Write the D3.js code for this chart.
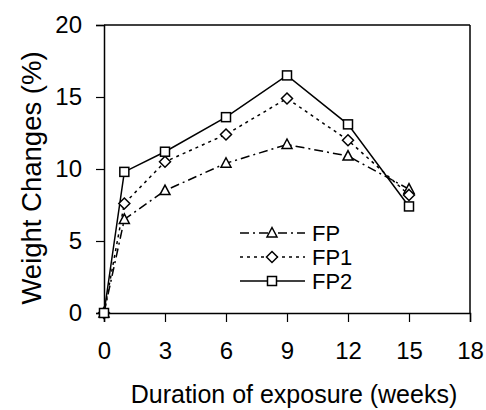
<!DOCTYPE html>
<html><head><meta charset="utf-8">
<script src="https://cdn.jsdelivr.net/npm/d3@7"></script>
<style>body{margin:0;background:#fff}svg{display:block}text{font-family:Arial,"Liberation Sans",sans-serif;fill:#000}</style>
</head><body><svg id="c" width="486" height="410"></svg>
<script>
const weeks = [0, 1, 3, 6, 9, 12, 15];
const seriesNames = ["FP", "FP1", "FP2"];
const fpValues  = [0, 6.5, 8.5, 10.4, 11.7, 10.9, 8.6];
const fp1Values = [0, 7.6, 10.5, 12.4, 14.9, 12.0, 8.2];
const fp2Values = [0, 9.8, 11.2, 13.6, 16.5, 13.1, 7.4];
const xTicks = [0, 3, 6, 9, 12, 15, 18];
const yTicks = [0, 5, 10, 15, 20];

const svg = d3.select("#c");
const L = 104, R = 470, T = 25, B = 313;
const x = d3.scaleLinear().domain([0, 18]).range([L, R]);
const y = d3.scaleLinear().domain([0, 20]).range([B, T]);

const styles = [
  {name: seriesNames[0], vals: fpValues, dash: "9,4,2,4", marker: "tri"},
  {name: seriesNames[1], vals: fp1Values, dash: "3,4", marker: "dia"},
  {name: seriesNames[2], vals: fp2Values, dash: null, marker: "sq"}
];

// frame
svg.append("line").attr("x1", L).attr("x2", R).attr("y1", T).attr("y2", T).attr("stroke", "#000").attr("stroke-width", 1.5);
svg.append("line").attr("x1", R).attr("x2", R).attr("y1", T).attr("y2", B).attr("stroke", "#000").attr("stroke-width", 1.5);

const ya = svg.append("g").attr("transform", `translate(${L},0)`)
  .call(d3.axisLeft(y).tickValues(yTicks).tickSize(8).tickPadding(14).tickFormat(d3.format("d")));
const xa = svg.append("g").attr("transform", `translate(0,${B})`)
  .call(d3.axisBottom(x).tickValues(xTicks).tickSize(9).tickPadding(20).tickFormat(d3.format("d")));
[ya, xa].forEach(a => {
  a.select(".domain").attr("stroke", "#000").attr("stroke-width", 1.5);
  a.selectAll(".tick line").attr("stroke", "#000").attr("stroke-width", 1.2);
  a.selectAll("text").attr("font-size", 24).attr("font-family", "Arial, 'Liberation Sans', sans-serif").attr("fill", "#000");
});

function drawMarker(g, type, cx, cy) {
  if (type === "sq") {
    g.append("rect").attr("x", cx - 4.5).attr("y", cy - 4.5).attr("width", 9).attr("height", 9)
      .attr("fill", "#fff").attr("stroke", "#000").attr("stroke-width", 1.5);
  } else if (type === "dia") {
    g.append("path").attr("d", `M${cx},${cy-5.5}L${cx+5.5},${cy}L${cx},${cy+5.5}L${cx-5.5},${cy}Z`)
      .attr("fill", "#fff").attr("stroke", "#000").attr("stroke-width", 1.5);
  } else {
    g.append("path").attr("d", `M${cx},${cy-5.5}L${cx+5},${cy+4}L${cx-5},${cy+4}Z`)
      .attr("fill", "#fff").attr("stroke", "#000").attr("stroke-width", 1.5);
  }
}

const line = d3.line().x((d, i) => x(weeks[i])).y(d => y(d));
styles.forEach(s => {
  const p = svg.append("path").datum(s.vals).attr("d", line).attr("fill", "none")
    .attr("stroke", "#000").attr("stroke-width", 1.5);
  if (s.dash) p.attr("stroke-dasharray", s.dash);
});
styles.forEach(s => {
  const g = svg.append("g");
  s.vals.forEach((v, i) => drawMarker(g, s.marker, x(weeks[i]), y(v)));
});

// legend
styles.forEach((s, i) => {
  const ly = 233 + i * 24;
  const g = svg.append("g");
  const ln = g.append("line").attr("x1", 240).attr("x2", 305).attr("y1", ly).attr("y2", ly)
    .attr("stroke", "#000").attr("stroke-width", 1.5);
  if (s.dash) ln.attr("stroke-dasharray", s.dash);
  drawMarker(g, s.marker, 272, ly);
  g.append("text").attr("x", 312).attr("y", ly).attr("dy", "0.35em").attr("font-size", 22).text(s.name);
});

// axis titles
svg.append("text").attr("x", (L + R) / 2 + 7).attr("y", 403).attr("text-anchor", "middle")
  .attr("font-size", 25).text("Duration of exposure (weeks)");
svg.append("text").attr("transform", "translate(41,178) rotate(-90)").attr("text-anchor", "middle")
  .attr("font-size", 27.5).text("Weight Changes (%)");
</script></body></html>
